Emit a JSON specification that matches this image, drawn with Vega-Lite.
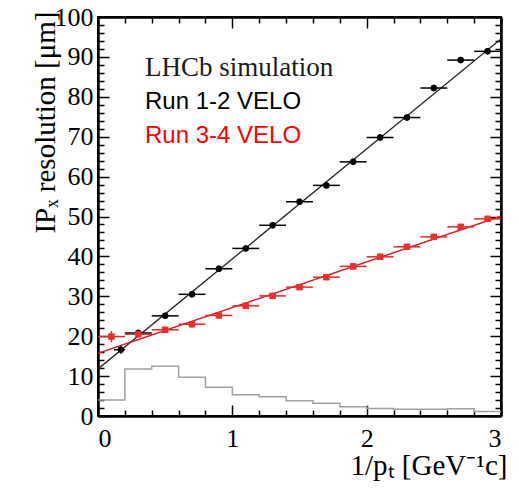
{
  "$schema": "https://vega.github.io/schema/vega-lite/v6.json",
  "width": 403,
  "height": 399,
  "autosize": "none",
  "padding": {"left": 98, "top": 17, "right": 18, "bottom": 75},
  "background": "white",
  "config": {
    "view": {"stroke": "black", "strokeWidth": 2},
    "axis": {
      "grid": false,
      "tickColor": "#000000",
      "tickWidth": 1.5,
      "domainColor": "#000000",
      "domainWidth": 2,
      "labelFont": "Liberation Serif",
      "labelFontSize": 26,
      "labelColor": "black",
      "titleFont": "Liberation Serif",
      "titleFontSize": 29,
      "titleColor": "black",
      "titleFontWeight": "normal"
    }
  },
  "datasets": {
    "hist": [
      {"edge": 0.0, "count": 4.0},
      {"edge": 0.2, "count": 11.8},
      {"edge": 0.4, "count": 12.5},
      {"edge": 0.6, "count": 9.7},
      {"edge": 0.8, "count": 7.2},
      {"edge": 1.0, "count": 5.3},
      {"edge": 1.2, "count": 4.85},
      {"edge": 1.4, "count": 3.8},
      {"edge": 1.6, "count": 3.2},
      {"edge": 1.8, "count": 2.3},
      {"edge": 2.0, "count": 1.9},
      {"edge": 2.2, "count": 1.7},
      {"edge": 2.4, "count": 1.7},
      {"edge": 2.6, "count": 1.8},
      {"edge": 2.8, "count": 1.1},
      {"edge": 3.0, "count": 1.1}
    ],
    "fits": [
      {"run": "Run 1-2", "x": 0, "y": 11.8},
      {"run": "Run 1-2", "x": 3, "y": 94.5},
      {"run": "Run 3-4", "x": 0, "y": 15.7},
      {"run": "Run 3-4", "x": 3, "y": 50.1}
    ],
    "r12": [
      {"x": 0.17, "xlo": 0.12, "xhi": 0.2, "y": 16.6, "ylo": 15.6, "yhi": 17.6},
      {"x": 0.3, "xlo": 0.2, "xhi": 0.4, "y": 20.8, "ylo": 20.0, "yhi": 21.6},
      {"x": 0.5, "xlo": 0.4, "xhi": 0.6, "y": 25.1, "ylo": 24.3, "yhi": 25.9},
      {"x": 0.7, "xlo": 0.6, "xhi": 0.8, "y": 30.5, "ylo": 29.7, "yhi": 31.3},
      {"x": 0.9, "xlo": 0.8, "xhi": 1.0, "y": 36.9, "ylo": 36.1, "yhi": 37.7},
      {"x": 1.1, "xlo": 1.0, "xhi": 1.2, "y": 42.0, "ylo": 41.2, "yhi": 42.8},
      {"x": 1.3, "xlo": 1.2, "xhi": 1.4, "y": 47.8, "ylo": 47.0, "yhi": 48.6},
      {"x": 1.5, "xlo": 1.4, "xhi": 1.6, "y": 53.7, "ylo": 52.9, "yhi": 54.5},
      {"x": 1.7, "xlo": 1.6, "xhi": 1.8, "y": 57.8, "ylo": 57.0, "yhi": 58.6},
      {"x": 1.9, "xlo": 1.8, "xhi": 2.0, "y": 63.7, "ylo": 62.9, "yhi": 64.5},
      {"x": 2.1, "xlo": 2.0, "xhi": 2.2, "y": 69.8, "ylo": 69.0, "yhi": 70.6},
      {"x": 2.3, "xlo": 2.2, "xhi": 2.4, "y": 74.8, "ylo": 74.0, "yhi": 75.6},
      {"x": 2.5, "xlo": 2.4, "xhi": 2.6, "y": 82.2, "ylo": 81.4, "yhi": 83.0},
      {"x": 2.7, "xlo": 2.6, "xhi": 2.8, "y": 89.2, "ylo": 88.4, "yhi": 90.0},
      {"x": 2.9, "xlo": 2.8, "xhi": 3.0, "y": 91.4, "ylo": 90.6, "yhi": 92.2}
    ],
    "r34": [
      {"x": 0.1, "xlo": 0.0, "xhi": 0.2, "y": 19.9, "ylo": 18.5, "yhi": 21.3},
      {"x": 0.3, "xlo": 0.2, "xhi": 0.4, "y": 20.5, "ylo": 19.7, "yhi": 21.3},
      {"x": 0.5, "xlo": 0.4, "xhi": 0.6, "y": 21.6, "ylo": 20.8, "yhi": 22.4},
      {"x": 0.7, "xlo": 0.6, "xhi": 0.8, "y": 23.0, "ylo": 22.2, "yhi": 23.8},
      {"x": 0.9, "xlo": 0.8, "xhi": 1.0, "y": 25.2, "ylo": 24.4, "yhi": 26.0},
      {"x": 1.1, "xlo": 1.0, "xhi": 1.2, "y": 27.6, "ylo": 26.8, "yhi": 28.4},
      {"x": 1.3, "xlo": 1.2, "xhi": 1.4, "y": 30.1, "ylo": 29.3, "yhi": 30.9},
      {"x": 1.5, "xlo": 1.4, "xhi": 1.6, "y": 32.3, "ylo": 31.5, "yhi": 33.1},
      {"x": 1.7, "xlo": 1.6, "xhi": 1.8, "y": 34.8, "ylo": 34.0, "yhi": 35.6},
      {"x": 1.9, "xlo": 1.8, "xhi": 2.0, "y": 37.5, "ylo": 36.7, "yhi": 38.3},
      {"x": 2.1, "xlo": 2.0, "xhi": 2.2, "y": 39.9, "ylo": 39.1, "yhi": 40.7},
      {"x": 2.3, "xlo": 2.2, "xhi": 2.4, "y": 42.4, "ylo": 41.6, "yhi": 43.2},
      {"x": 2.5, "xlo": 2.4, "xhi": 2.6, "y": 44.9, "ylo": 44.1, "yhi": 45.7},
      {"x": 2.7, "xlo": 2.6, "xhi": 2.8, "y": 47.4, "ylo": 46.6, "yhi": 48.2},
      {"x": 2.9, "xlo": 2.8, "xhi": 3.0, "y": 49.4, "ylo": 48.6, "yhi": 50.2}
    ],
    "labels": [
      {"label": "LHCb simulation"},
      {"label": "Run 1-2 VELO"},
      {"label": "Run 3-4 VELO"}
    ]
  },
  "resolve": {"axis": {"x": "independent", "y": "independent"}},
  "layer": [
    {
      "data": {"name": "hist"},
      "mark": {"type": "line", "interpolate": "step-after", "color": "#a0a0a0", "strokeWidth": 1.5},
      "encoding": {
        "x": {"field": "edge", "type": "quantitative", "scale": {"domain": [0, 3], "nice": false, "zero": false},
          "axis": {"orient": "bottom", "values": [0, 1, 2, 3], "format": "d", "ticks": false, "domain": false, "labelPadding": 9,
            "title": "1/pₜ [GeV⁻¹c]", "titleX": 409, "titleY": 58, "titleAlign": "right", "titleBaseline": "alphabetic"}},
        "y": {"field": "count", "type": "quantitative", "scale": {"domain": [0, 100], "nice": false, "zero": false},
          "axis": {"orient": "left", "values": [0, 10, 20, 30, 40, 50, 60, 70, 80, 90, 100], "format": "d", "ticks": false, "domain": false, "labelPadding": 5,
            "title": "IPₓ resolution [μm]", "titleX": -53, "titleY": -6, "titleAngle": -90, "titleAlign": "right", "titleBaseline": "middle"}}
      }
    },
    {
      "data": {"name": "fits"},
      "transform": [{"filter": "datum.run === 'Run 1-2'"}],
      "mark": {"type": "line", "color": "#222222", "strokeWidth": 1.3, "clip": true},
      "encoding": {
        "x": {"field": "x", "type": "quantitative",
          "axis": {"orient": "bottom", "values": [0, 1, 2, 3], "labels": false, "domain": true, "ticks": true, "tickSize": -11, "title": null}},
        "y": {"field": "y", "type": "quantitative",
          "axis": {"orient": "left", "values": [0, 10, 20, 30, 40, 50, 60, 70, 80, 90, 100], "labels": false, "domain": true, "ticks": true, "tickSize": -11, "title": null}}
      }
    },
    {
      "data": {"name": "fits"},
      "transform": [{"filter": "datum.run === 'Run 3-4'"}],
      "mark": {"type": "line", "color": "#d42020", "strokeWidth": 1.5, "clip": true},
      "encoding": {
        "x": {"field": "x", "type": "quantitative",
          "axis": {"orient": "bottom", "values": [0.2, 0.4, 0.6, 0.8, 1.2, 1.4, 1.6, 1.8, 2.2, 2.4, 2.6, 2.8], "labels": false, "domain": true, "ticks": true, "tickSize": -6, "title": null}},
        "y": {"field": "y", "type": "quantitative",
          "axis": {"orient": "left", "values": [2, 4, 6, 8, 12, 14, 16, 18, 22, 24, 26, 28, 32, 34, 36, 38, 42, 44, 46, 48, 52, 54, 56, 58, 62, 64, 66, 68, 72, 74, 76, 78, 82, 84, 86, 88, 92, 94, 96, 98], "labels": false, "domain": true, "ticks": true, "tickSize": -6, "title": null}}
      }
    },
    {
      "data": {"name": "r12"},
      "mark": {"type": "rule", "color": "black", "strokeWidth": 1.5},
      "encoding": {
        "x": {"field": "xlo", "type": "quantitative",
          "axis": {"orient": "top", "values": [0, 1, 2, 3], "labels": false, "domain": true, "ticks": true, "tickSize": -11, "title": null}},
        "x2": {"field": "xhi"},
        "y": {"field": "y", "type": "quantitative",
          "axis": {"orient": "right", "values": [0, 10, 20, 30, 40, 50, 60, 70, 80, 90, 100], "labels": false, "domain": true, "ticks": true, "tickSize": -11, "title": null}}
      }
    },
    {
      "data": {"name": "r12"},
      "mark": {"type": "rule", "color": "black", "strokeWidth": 1.5},
      "encoding": {
        "x": {"field": "x", "type": "quantitative",
          "axis": {"orient": "top", "values": [0.2, 0.4, 0.6, 0.8, 1.2, 1.4, 1.6, 1.8, 2.2, 2.4, 2.6, 2.8], "labels": false, "domain": true, "ticks": true, "tickSize": -6, "title": null}},
        "y": {"field": "ylo", "type": "quantitative",
          "axis": {"orient": "right", "values": [2, 4, 6, 8, 12, 14, 16, 18, 22, 24, 26, 28, 32, 34, 36, 38, 42, 44, 46, 48, 52, 54, 56, 58, 62, 64, 66, 68, 72, 74, 76, 78, 82, 84, 86, 88, 92, 94, 96, 98], "labels": false, "domain": true, "ticks": true, "tickSize": -6, "title": null}},
        "y2": {"field": "yhi"}
      }
    },
    {
      "data": {"name": "r12"},
      "mark": {"type": "point", "shape": "circle", "filled": true, "color": "black", "size": 42, "opacity": 1},
      "encoding": {
        "x": {"field": "x", "type": "quantitative", "axis": null},
        "y": {"field": "y", "type": "quantitative", "axis": null}
      }
    },
    {
      "data": {"name": "r34"},
      "mark": {"type": "rule", "color": "#e02a26", "strokeWidth": 1.5},
      "encoding": {
        "x": {"field": "xlo", "type": "quantitative", "axis": null},
        "x2": {"field": "xhi"},
        "y": {"field": "y", "type": "quantitative", "axis": null}
      }
    },
    {
      "data": {"name": "r34"},
      "mark": {"type": "rule", "color": "#e02a26", "strokeWidth": 1.5},
      "encoding": {
        "x": {"field": "x", "type": "quantitative", "axis": null},
        "y": {"field": "ylo", "type": "quantitative", "axis": null},
        "y2": {"field": "yhi"}
      }
    },
    {
      "data": {"name": "r34"},
      "mark": {"type": "point", "shape": "square", "filled": true, "color": "#e8302c", "size": 42, "opacity": 1},
      "encoding": {
        "x": {"field": "x", "type": "quantitative", "axis": null},
        "y": {"field": "y", "type": "quantitative", "axis": null}
      }
    },
    {
      "data": {"name": "labels"},
      "transform": [{"filter": "datum.label === 'LHCb simulation'"}],
      "mark": {"type": "text", "font": "Liberation Serif", "fontSize": 27, "align": "left", "baseline": "alphabetic", "color": "#1a1a1a"},
      "encoding": {
        "x": {"datum": 0.35, "type": "quantitative", "axis": null},
        "y": {"datum": 85.3, "type": "quantitative", "axis": null},
        "text": {"field": "label"}
      }
    },
    {
      "data": {"name": "labels"},
      "transform": [{"filter": "datum.label === 'Run 1-2 VELO'"}],
      "mark": {"type": "text", "font": "Liberation Sans", "fontSize": 24, "align": "left", "baseline": "alphabetic", "color": "black"},
      "encoding": {
        "x": {"datum": 0.35, "type": "quantitative", "axis": null},
        "y": {"datum": 77.0, "type": "quantitative", "axis": null},
        "text": {"field": "label"}
      }
    },
    {
      "data": {"name": "labels"},
      "transform": [{"filter": "datum.label === 'Run 3-4 VELO'"}],
      "mark": {"type": "text", "font": "Liberation Sans", "fontSize": 24, "align": "left", "baseline": "alphabetic", "color": "#ff0000"},
      "encoding": {
        "x": {"datum": 0.35, "type": "quantitative", "axis": null},
        "y": {"datum": 68.3, "type": "quantitative", "axis": null},
        "text": {"field": "label"}
      }
    }
  ]
}
